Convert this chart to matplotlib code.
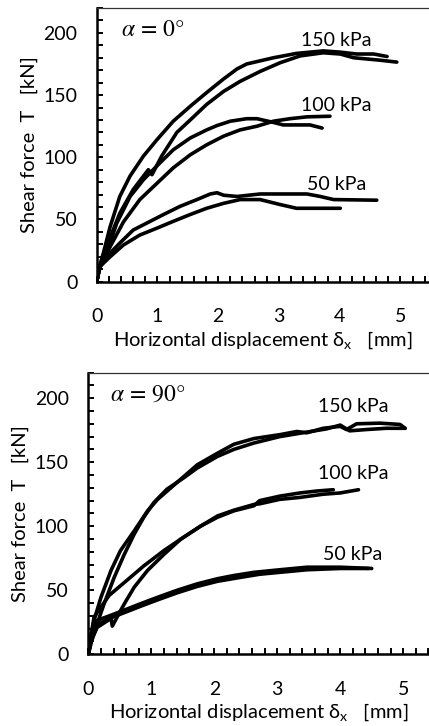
import numpy as np
import matplotlib
matplotlib.use('Agg')
import matplotlib.pyplot as plt
from matplotlib.ticker import MultipleLocator

plt.rcParams['font.family'] = ['Lato', 'DejaVu Sans']
plt.rcParams['mathtext.fontset'] = 'stix'

# ---------------- alpha = 0 deg ----------------
x0_150a = [0, 0.05, 0.11, 0.22, 0.38, 0.55, 0.77, 0.99, 1.26, 1.54, 1.81, 2.09, 2.31, 2.47, 2.69,
           2.91, 3.29, 3.73, 4.01, 4.28, 4.56, 4.78]
y0_150a = [0, 13, 23, 44, 68.5, 85, 101, 114, 129, 141, 152, 163, 171, 175, 177.5,
           180, 183.5, 185.5, 184.5, 183, 183, 181]
x0_150b = [0, 0.05, 0.16, 0.38, 0.60, 0.85, 0.91, 1.07, 1.32, 1.54, 1.81, 2.09, 2.36, 2.69,
           3.02, 3.35, 3.73, 4.01, 4.23, 4.45, 4.67, 4.94]
y0_150b = [0, 12, 28, 55, 74, 90, 86, 101, 120, 130, 142.5, 153, 161, 169,
           176, 181.5, 184, 183, 180, 179, 178, 176.5]
x0_100a = [0, 0.05, 0.16, 0.33, 0.55, 0.77, 0.99, 1.26, 1.54, 1.81, 1.98, 2.20, 2.47, 2.64,
           2.91, 3.07, 3.29, 3.51, 3.71]
y0_100a = [0, 12, 23, 47, 68.5, 82, 93, 106, 115.5, 122, 125.5, 129, 131, 131,
           128, 126, 126, 126, 123.5]
x0_100b = [0, 0.05, 0.22, 0.44, 0.71, 0.99, 1.26, 1.54, 1.81, 2.09, 2.36, 2.64, 2.91, 3.18,
           3.46, 3.84]
y0_100b = [0, 11, 28, 48, 66, 79, 91.5, 102, 110, 117, 122, 125, 129, 131,
           132.5, 133]
x0_50a = [0, 0.05, 0.16, 0.38, 0.60, 0.88, 1.10, 1.37, 1.65, 1.87, 1.98, 2.09, 2.31, 2.69,
          3.02, 3.46, 3.68, 3.90, 4.61]
y0_50a = [0, 12, 20, 31, 41.5, 48.5, 54, 60.5, 66, 70.5, 71.5, 69.5, 68.5, 70.5,
          70.5, 70.5, 68.5, 66, 65.5]
x0_50b = [0, 0.05, 0.22, 0.44, 0.71, 0.99, 1.26, 1.54, 1.81, 2.09, 2.36, 2.69, 3.02, 3.29,
          3.62, 4.01]
y0_50b = [0, 12, 20, 29.5, 37.5, 43, 48.5, 54, 59, 63, 66, 66, 62, 59,
          59, 59]

# ---------------- alpha = 90 deg ----------------
x90_150a = [0, 0.04, 0.09, 0.20, 0.36, 0.51, 0.73, 0.94, 1.10, 1.31, 1.52, 1.73, 2.05, 2.31,
            2.63, 3.04, 3.31, 3.47, 3.73, 4.00, 4.10, 4.26, 4.63, 4.95, 5.03]
y90_150a = [0, 14, 26.5, 44.5, 65.5, 81, 96.5, 112, 121, 130, 139, 148, 157, 164,
            168.5, 171.5, 174, 173, 176.5, 178, 175.5, 180, 180.5, 179.5, 176.5]
x90_150b = [0, 0.05, 0.14, 0.25, 0.41, 0.57, 0.73, 0.88, 1.04, 1.25, 1.52, 1.73, 2.05, 2.31,
            2.63, 3.04, 3.47, 3.78, 4.00, 4.15, 4.41, 4.73, 5.03]
y90_150b = [0, 10, 24, 39.5, 60, 78, 94, 107, 118.5, 129, 138, 145.5, 154.5, 160,
            165, 170, 173.5, 176, 179, 174.5, 175.5, 176.5, 176.5]
x90_100a = [0, 0.04, 0.09, 0.33, 0.57, 0.88, 1.20, 1.47, 1.78, 2.05, 2.31, 2.63, 2.72, 3.04,
            3.36, 3.63, 3.89]
y90_100a = [0, 14, 29, 46, 56, 69, 81, 90, 100, 107, 112, 116, 120, 123.5,
            126, 127.5, 128.5]
x90_100b = [0, 0.04, 0.14, 0.36, 0.38, 0.51, 0.59, 0.73, 0.94, 1.20, 1.47, 1.78, 2.05, 2.31,
            2.63, 2.72, 3.04, 3.36, 3.73, 4.00, 4.29]
y90_100b = [0, 10, 21, 28, 22, 34, 41, 52.5, 65.5, 78, 90, 100, 108, 112.5,
            117, 117.5, 121, 122.5, 125, 126, 128.5]
x90_50a = [0, 0.03, 0.06, 0.14, 0.36, 0.57, 0.83, 1.10, 1.41, 1.73, 2.05, 2.31, 2.63, 3.04,
           3.47, 4.00, 4.50]
y90_50a = [0, 10, 19, 26.5, 30.5, 34.5, 39.5, 44.5, 50, 55, 59, 61.5, 64, 66,
           68, 68, 67]
x90_50b = [0, 0.03, 0.07, 0.14, 0.36, 0.57, 0.83, 1.10, 1.41, 1.73, 2.05, 2.41, 2.72, 3.04,
           3.47, 4.00, 4.45]
y90_50b = [0, 8, 16, 23, 28.5, 32.5, 37.5, 42.5, 48, 53, 57, 60, 62.5, 64,
           66, 67, 67]

pressures = ['150 kPa', '100 kPa', '50 kPa']
label_y = [193.5, 141.5, 78]

panels = [
    dict(rect=[0.2254, 0.612, 0.7746, 0.377], xmax=5.47, title=r'$\alpha\, =\, 0°$', tx=0.4, lx=3.95,
         curves=[(x0_150a, y0_150a), (x0_150b, y0_150b), (x0_100a, y0_100a),
                 (x0_100b, y0_100b), (x0_50a, y0_50a), (x0_50b, y0_50b)]),
    dict(rect=[0.206, 0.0988, 0.794, 0.388], xmax=5.41, title=r'$\alpha\, =\, 90°$', tx=0.34, lx=4.2,
         curves=[(x90_150a, y90_150a), (x90_150b, y90_150b), (x90_100a, y90_100a),
                 (x90_100b, y90_100b), (x90_50a, y90_50a), (x90_50b, y90_50b)]),
]

fig = plt.figure(figsize=(4.29, 7.26), dpi=100)
for p in panels:
    ax = fig.add_axes(p['rect'])
    for xs, ys in p['curves']:
        ax.plot(xs, ys, '-', color='black', lw=2.6, solid_capstyle='round', solid_joinstyle='round')
    ax.set_xlim(0, p['xmax'])
    ax.set_ylim(0, 220)
    ax.xaxis.set_major_locator(MultipleLocator(1))
    ax.xaxis.set_minor_locator(MultipleLocator(0.2))
    ax.yaxis.set_major_locator(MultipleLocator(50))
    ax.yaxis.set_minor_locator(MultipleLocator(10))
    ax.tick_params(which='both', direction='in', length=4, width=1.4, labelsize=14, color='black')
    ax.tick_params(axis='x', which='major', pad=19)
    ax.tick_params(axis='y', which='major', pad=14)
    ax.spines['right'].set_visible(False)
    ax.spines['top'].set_linewidth(0.9)
    ax.spines['top'].set_color('#333333')
    ax.spines['left'].set_linewidth(1.8)
    ax.spines['bottom'].set_linewidth(1.8)
    ax.set_xlabel(r'Horizontal displacement $\mathregular{\delta_x}$   [mm]', fontsize=14.5, labelpad=3)
    ax.set_ylabel('Shear force  T   [kN]', fontsize=14.5, labelpad=4)
    ax.text(p['tx'], 203, p['title'], fontsize=17, ha='left', va='center')
    for name, ly in zip(pressures, label_y):
        ax.text(p['lx'], ly, name, fontsize=14, ha='center', va='center')

fig.savefig('out.png', dpi=100)
